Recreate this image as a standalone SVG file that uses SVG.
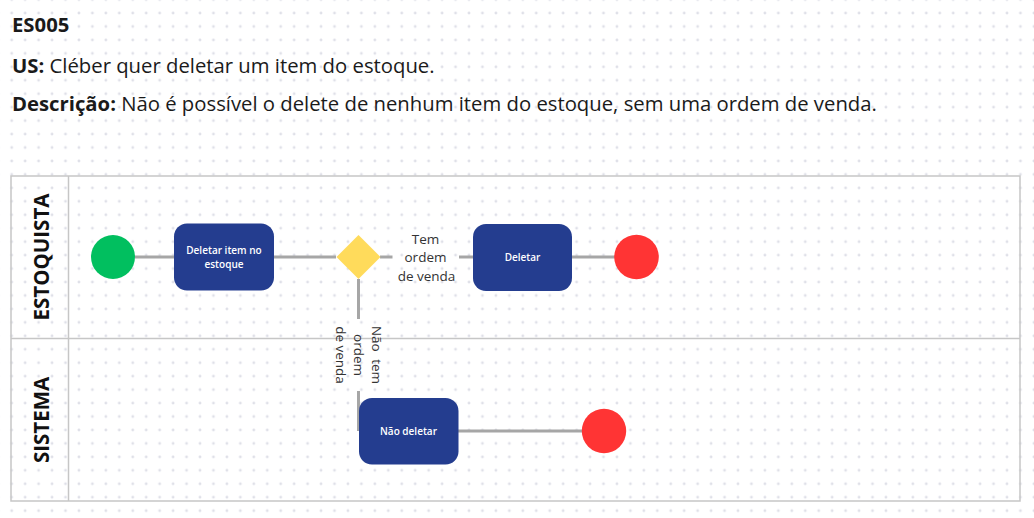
<svg xmlns="http://www.w3.org/2000/svg" width="1034" height="518" viewBox="0 0 1034 518">
<defs>
<pattern id="dots" x="5" y="6.3" width="13.45" height="13.45" patternUnits="userSpaceOnUse">
<circle cx="6.7" cy="6.7" r="1.4" fill="#dfe0e8"/>
</pattern>
<style>
.hdr{font-family:"Open Sans","Liberation Sans",sans-serif;font-size:20.3px;fill:#1a1a1a}
.b{font-weight:700}
.lane{font-family:"Open Sans","Liberation Sans",sans-serif;font-size:20.5px;font-weight:700;fill:#111}
.pool{fill:none;stroke:#c6c6c6;stroke-width:1.5}
.task{fill:#243d8f}
.tt{font-family:"Open Sans","Liberation Sans",sans-serif;font-size:10px;font-weight:600;fill:#fff;text-anchor:middle}
.edge{stroke:#a6a6a6;stroke-width:3;fill:none}
.lbl{font-family:"Open Sans","Liberation Sans",sans-serif;font-size:13.5px;fill:#333;text-anchor:middle}
</style>
</defs>
<rect width="1034" height="518" fill="#fff"/>
<rect width="1034" height="518" fill="url(#dots)"/>
<g id="header">
<text class="hdr b" x="12" y="31.5">ES005</text>
<text class="hdr" x="12" y="72.5"><tspan class="b">US:</tspan> Cléber quer deletar um item do estoque.</text>
<text class="hdr" x="12" y="111"><tspan class="b">Descrição:</tspan> Não é possível o delete de nenhum item do estoque, sem uma ordem de venda.</text>
</g>
<g id="pool">
<rect class="pool" x="11" y="176" width="1009" height="325"/>
<line class="pool" x1="68.5" y1="176" x2="68.5" y2="501"/>
<line class="pool" x1="11" y1="338.5" x2="1020" y2="338.5"/>
<text class="lane" transform="translate(48.5,257) rotate(-90)" text-anchor="middle">ESTOQUISTA</text>
<text class="lane" transform="translate(48.5,420) rotate(-90)" text-anchor="middle">SISTEMA</text>
</g>
<g id="connectors">
<line class="edge" x1="135" y1="257" x2="174" y2="257"/>
<line class="edge" x1="274" y1="257" x2="336" y2="257"/>
<line class="edge" x1="380" y1="257" x2="392.5" y2="257"/>
<line class="edge" x1="459" y1="257" x2="473" y2="257"/>
<text class="lbl"><tspan x="425.5" y="244">Tem</tspan><tspan x="425.5" y="262">ordem</tspan><tspan x="426.5" y="281">de venda</tspan></text>
<line class="edge" x1="572" y1="257" x2="615" y2="257"/>
<line class="edge" x1="358.5" y1="279" x2="358.5" y2="319"/>
<line class="edge" x1="358.5" y1="391" x2="358.5" y2="431"/>
<text class="lbl" transform="translate(358.5,355) rotate(90)"><tspan x="0" y="-13" word-spacing="4">Não tem</tspan><tspan x="0" y="5">ordem</tspan><tspan x="0" y="23">de venda</tspan></text>
<line class="edge" x1="458" y1="431" x2="582" y2="431"/>
</g>
<g id="start">
<circle cx="113" cy="257" r="22" fill="#01bf5f"/>
</g>
<g id="task-deletar-item">
<rect class="task" x="174" y="223.5" width="100" height="67" rx="13"/>
<text class="tt"><tspan x="224" y="254">Deletar item no</tspan><tspan x="224" y="267.5">estoque</tspan></text>
</g>
<g id="gateway">
<polygon points="358.5,235 380.5,257 358.5,279 336.5,257" fill="#ffdb5b"/>
</g>
<g id="task-deletar">
<rect class="task" x="473" y="224" width="99" height="67" rx="13"/>
<text class="tt" x="522.5" y="260.5">Deletar</text>
</g>
<g id="end-1">
<circle cx="636.5" cy="257" r="22.3" fill="#ff3434"/>
</g>
<g id="task-nao-deletar">
<rect class="task" x="359" y="398" width="99.5" height="66.5" rx="13"/>
<text class="tt" x="408.5" y="434.5">Não deletar</text>
</g>
<g id="end-2">
<circle cx="604" cy="431" r="22.2" fill="#ff3434"/>
</g>
</svg>
